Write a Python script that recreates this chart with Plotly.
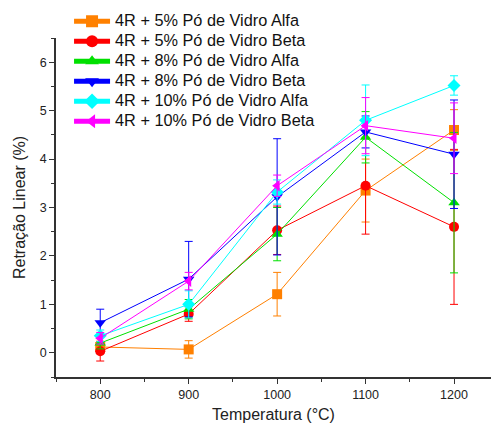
import plotly.graph_objects as go

temps = [800, 900, 1000, 1100, 1200]

names = [
    "4R + 5% Pó de Vidro Alfa",
    "4R + 5% Pó de Vidro Beta",
    "4R + 8% Pó de Vidro Alfa",
    "4R + 8% Pó de Vidro Beta",
    "4R + 10% Pó de Vidro Alfa",
    "4R + 10% Pó de Vidro Beta",
]

alfa5 = [0.12, 0.07, 1.21, 3.35, 4.60]
alfa5_err = [0.12, 0.18, 0.45, 0.65, 0.42]
beta5 = [0.03, 0.80, 2.53, 3.45, 2.60]
beta5_err = [0.20, 0.15, 0.50, 1.00, 1.60]
alfa8 = [0.20, 0.90, 2.45, 4.45, 3.10]
alfa8_err = [0.12, 0.20, 0.55, 0.53, 1.45]
beta8 = [0.62, 1.52, 3.22, 4.56, 4.10]
beta8_err = [0.28, 0.78, 1.20, 0.33, 1.12]
alfa10 = [0.35, 1.00, 3.32, 4.80, 5.52]
alfa10_err = [0.12, 0.28, 0.25, 0.73, 0.20]
beta10 = [0.30, 1.48, 3.45, 4.69, 4.43]
beta10_err = [0.12, 0.18, 0.22, 0.58, 0.73]

series = [alfa5, beta5, alfa8, beta8, alfa10, beta10]
errors = [alfa5_err, beta5_err, alfa8_err, beta8_err, alfa10_err, beta10_err]
colors = ["#FF8000", "#FF0000", "#00E000", "#0000FF", "#00FFFF", "#FF00FF"]
symbols = ["square", "circle", "triangle-up", "triangle-down", "diamond", "triangle-left"]

fig = go.Figure()
for name, ys, es, c, s in zip(names, series, errors, colors, symbols):
    fig.add_trace(go.Scatter(
        x=temps, y=ys,
        name='<span style="font-size:16.3px">' + name + "</span>",
        mode="lines+markers",
        line=dict(color=c, width=1),
        marker=dict(symbol=s, size=10, color=c, line=dict(width=0)),
        error_y=dict(type="data", array=es, visible=True, color=c, thickness=1, width=4),
    ))

fig.update_layout(
    width=491, height=427,
    margin=dict(l=56, r=0, t=38, b=50),
    paper_bgcolor="white", plot_bgcolor="white",
    font=dict(family="Liberation Sans, Arial", size=13, color="#222"),
    showlegend=True,
    legend=dict(
        x=0.03, y=1.094, xanchor="left", yanchor="top",
        bgcolor="rgba(0,0,0,0)",
        font=dict(family="Liberation Sans, Arial", size=13.1, color="#111"),
        tracegroupgap=0, itemsizing="constant", itemwidth=36,
    ),
    xaxis=dict(
        range=[750, 1241.8], showgrid=False, zeroline=False,
        showline=True, linecolor="#333", linewidth=1.5,
        ticks="outside", ticklen=5, tickwidth=1, tickcolor="#333",
        tickvals=[800, 900, 1000, 1100, 1200],
        minor=dict(ticks="outside", ticklen=3, tickcolor="#333", dtick=50, tick0=750),
        title=dict(text="Temperatura (°C)", font=dict(size=16), standoff=8),
        tickfont=dict(size=12.5),
    ),
    yaxis=dict(
        range=[-0.5, 6.5], showgrid=False, zeroline=False,
        showline=True, linecolor="#333", linewidth=1.5,
        ticks="outside", ticklen=5, tickwidth=1, tickcolor="#333",
        tickvals=[0, 1, 2, 3, 4, 5, 6],
        minor=dict(ticks="outside", ticklen=3, tickcolor="#333", dtick=0.5, tick0=0),
        title=dict(text="Retração Linear (%)", font=dict(size=16), standoff=10),
        tickfont=dict(size=12.5),
    ),
)

fig.write_html("out.html")
